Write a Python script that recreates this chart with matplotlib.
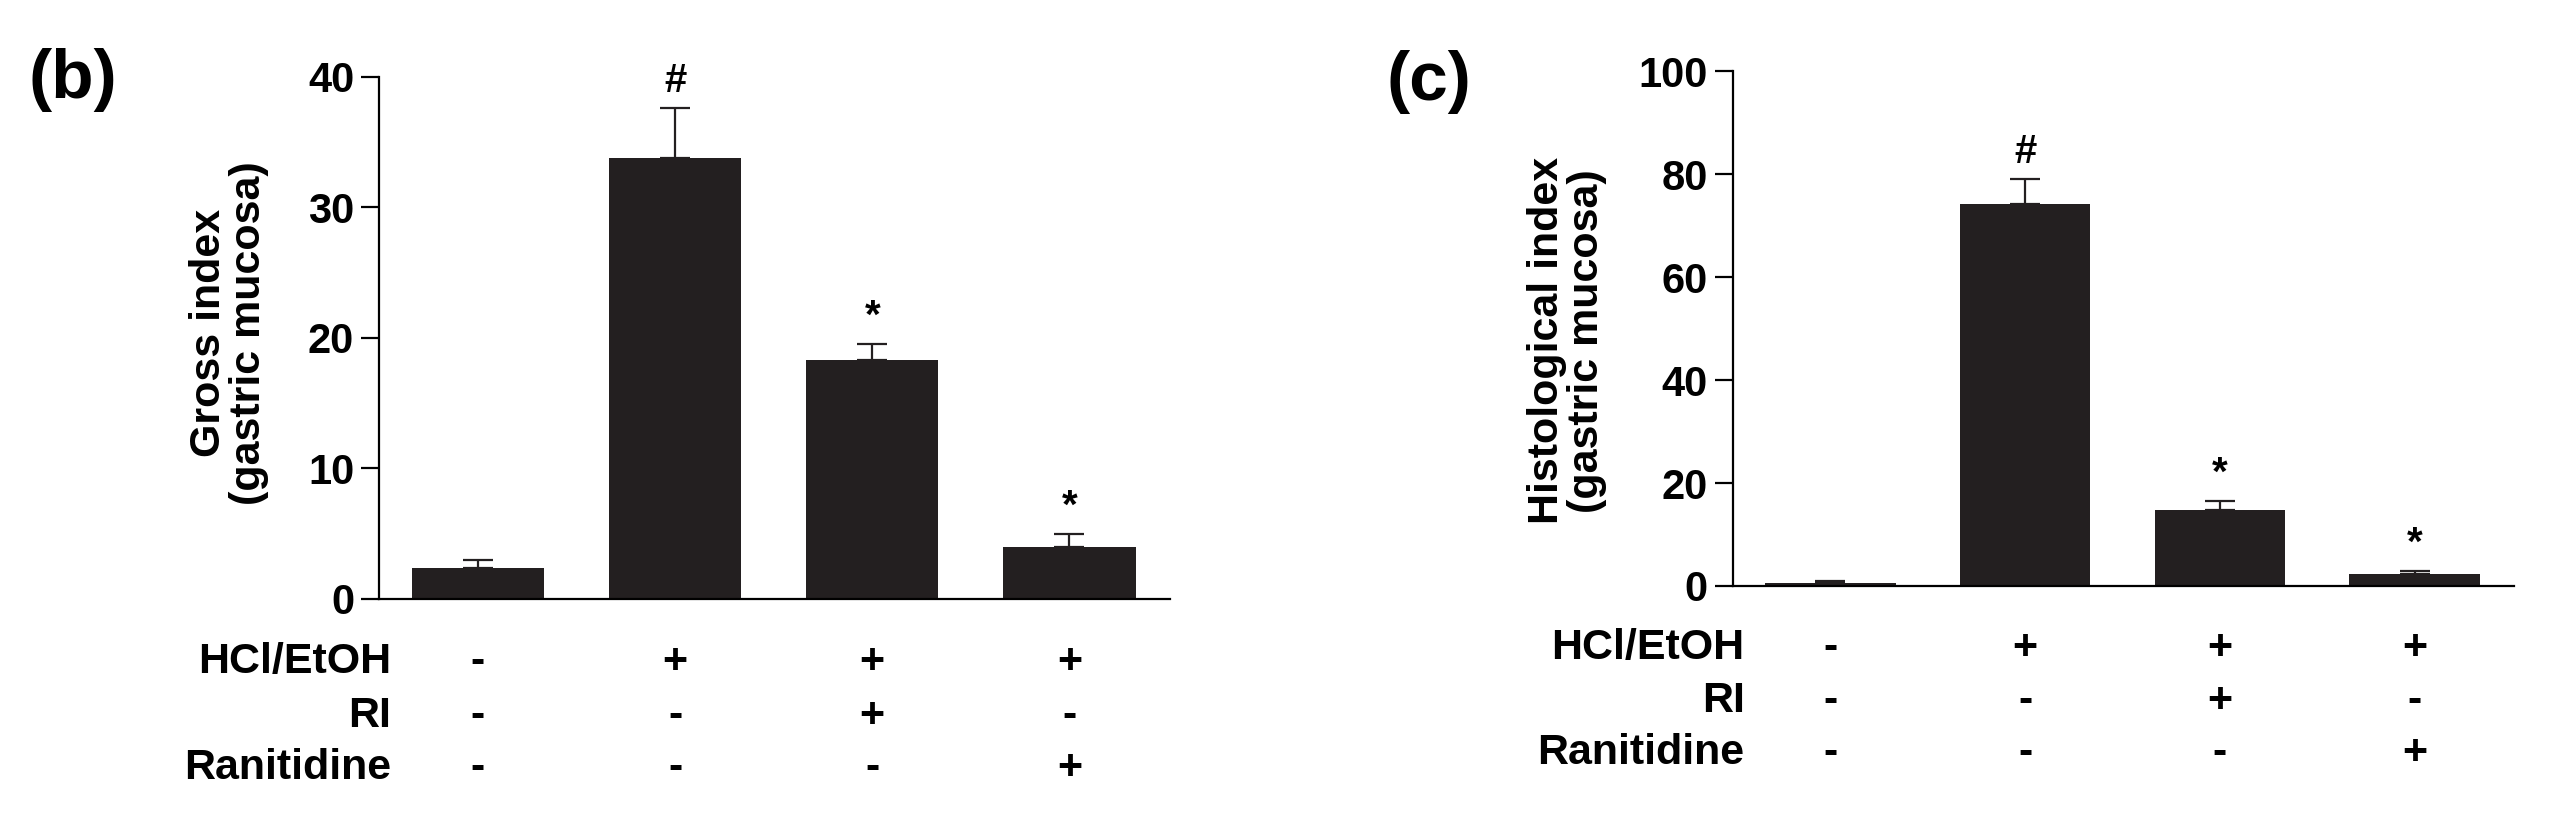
import numpy as np
import matplotlib
matplotlib.use('Agg')
import matplotlib.pyplot as plt
import matplotlib.transforms as mtransforms

plt.rcParams['font.family'] = ['Liberation Sans', 'DejaVu Sans']
plt.rcParams['font.weight'] = 'bold'

# data
groups = ['G1', 'G2', 'G3', 'G4']
row_names = ['HCl/EtOH', 'RI', 'Ranitidine']
hcl_signs = ['-', '+', '+', '+']
ri_signs = ['-', '-', '+', '-']
ran_signs = ['-', '-', '-', '+']

gross_mean = [2.4, 33.8, 18.3, 4.0]
gross_err = [0.6, 3.8, 1.2, 1.0]
gross_marks = ['', '#', '*', '*']

histo_mean = [0.6, 74.2, 14.8, 2.3]
histo_err = [0.3, 4.8, 1.7, 0.6]
histo_marks = ['', '#', '*', '*']

BAR_COLOR = '#231f20'


def draw_panel(ax, mean, err, marks, ymax, yticks, ylabel, ylab_x, ylab_y):
    x = np.arange(len(mean))
    ax.bar(x, mean, width=0.67, color=BAR_COLOR, zorder=2)
    ax.errorbar(x, mean, yerr=[np.zeros(len(err)), err], fmt='none',
                ecolor=BAR_COLOR, elinewidth=1.6, capsize=11, capthick=1.6, zorder=1)
    for xi, m, e, s in zip(x, mean, err, marks):
        if s:
            ax.annotate(s, (xi, m + e), xytext=(0, 6), textcoords='offset points',
                        ha='center', va='bottom', fontsize=29, fontweight='bold',
                        annotation_clip=False)
    ax.set_xlim(-0.5, 3.51)
    ax.set_ylim(0, ymax)
    ax.set_yticks(yticks)
    ax.set_xticks([])
    for sp in ['top', 'right']:
        ax.spines[sp].set_visible(False)
    for sp in ['left', 'bottom']:
        ax.spines[sp].set_linewidth(1.6)
    ax.tick_params(axis='y', direction='out', length=13, width=1.6,
                   labelsize=30, pad=5)
    ax.text(ylab_x, ylab_y, ylabel, transform=ax.transAxes, rotation=90,
            ha='center', va='center', multialignment='center',
            fontsize=31, fontweight='bold', linespacing=1.0)

    # treatment table under the bars
    trans = mtransforms.blended_transform_factory(ax.transData, ax.transAxes)
    rows_y = [-0.12, -0.224, -0.324]
    for name, signs, yy in zip(row_names, [hcl_signs, ri_signs, ran_signs], rows_y):
        ax.text(-0.44, yy, name, transform=trans, ha='right', va='center',
                fontsize=31, fontweight='bold')
        for xi, s in zip(x, signs):
            ax.text(xi, yy, s, transform=trans, ha='center', va='center',
                    fontsize=31, fontweight='bold')


fig = plt.figure(figsize=(25.62, 8.25), dpi=100)
ax1 = fig.add_axes([0.148, 0.274, 0.3087, 0.6327])
ax2 = fig.add_axes([0.6764, 0.2897, 0.3049, 0.6242])

draw_panel(ax1, gross_mean, gross_err, gross_marks, 40, [0, 10, 20, 30, 40],
           'Gross index\n(gastric mucosa)', -0.19, 0.51)
draw_panel(ax2, histo_mean, histo_err, histo_marks, 100, [0, 20, 40, 60, 80, 100],
           'Histological index\n(gastric mucosa)', -0.212, 0.476)

fig.text(0.011, 0.903, '(b)', fontsize=50, fontweight='bold', ha='left', va='center')
fig.text(0.541, 0.900, '(c)', fontsize=50, fontweight='bold', ha='left', va='center')

fig.savefig('out.png', dpi=100)
